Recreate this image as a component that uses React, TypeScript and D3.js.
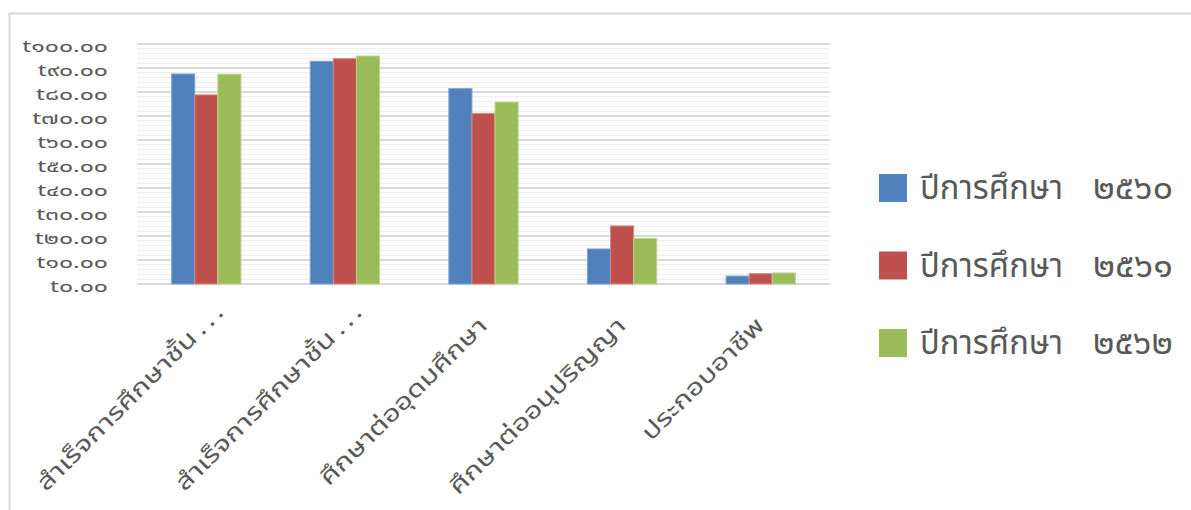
import React from "react";
import * as d3 from "d3";

const categories = [
  "สำเร็จการศึกษาชั้น...",
  "สำเร็จการศึกษาชั้น...",
  "ศึกษาต่ออุดมศึกษา",
  "ศึกษาต่ออนุปริญญา",
  "ประกอบอาชีพ",
];
const seriesLabels = ["ปีการศึกษา", "ปีการศึกษา", "ปีการศึกษา"];
const seriesYears = ["๒๕๖๐", "๒๕๖๑", "๒๕๖๒"];
const values2560 = [87.5, 92.8, 81.4, 14.6, 3.3];
const values2561 = [78.8, 93.9, 71.1, 24.2, 4.3];
const values2562 = [87.4, 95.0, 75.8, 19.0, 4.6];
const yTicks = [0, 10, 20, 30, 40, 50, 60, 70, 80, 90, 100];
const yTickLabels = [
  "t๐.๐๐", "t๑๐.๐๐", "t๒๐.๐๐", "t๓๐.๐๐", "t๔๐.๐๐", "t๕๐.๐๐",
  "t๖๐.๐๐", "t๗๐.๐๐", "t๘๐.๐๐", "t๙๐.๐๐", "t๑๐๐.๐๐",
];
const colors = ["#4F81BD", "#C0504D", "#9BBB59"];
const strokes = ["#7FA3D0", "#D88A88", "#BDD48F"];

const FONT = "'Leelawadee UI', Tahoma, 'Noto Sans Thai', 'Noto Sans', 'DejaVu Sans', sans-serif";

export default function App() {
  const W = 1191, H = 510;
  const left = 137, right = 830, top = 44, bottom = 284;
  const series = [values2560, values2561, values2562];
  const x0 = d3.scaleBand<number>().domain(d3.range(categories.length)).range([left, right]).paddingInner(0.5).paddingOuter(0.25);
  const x1 = d3.scaleBand<number>().domain([0, 1, 2]).range([0, x0.bandwidth()]);
  const y = d3.scaleLinear().domain([0, 100]).range([bottom, top]);
  const minor = d3.range(0, 101, 2);

  return (
    <svg width={W} height={H} style={{ position: "absolute", left: 0, top: 0, fontFamily: FONT }}>
      <rect x={0} y={0} width={W} height={H} fill="#fff" />
      <line x1={9.5} y1={13} x2={9.5} y2={H} stroke="#d9d9d9" strokeWidth={2} />
      <line x1={9} y1={13.5} x2={W} y2={13.5} stroke="#d9d9d9" strokeWidth={2} />
      {minor.map((v) => (
        <line key={"m" + v} x1={left} x2={right} y1={y(v)} y2={y(v)} stroke={v % 10 === 0 ? "#d9d9d9" : "#efefef"} strokeWidth={v % 10 === 0 ? 2 : 1.5} />
      ))}
      {yTicks.map((v, i) => (
        <text key={"yt" + v} transform={`translate(108,${y(v) + 8}) scale(1.55,1)`} textAnchor="end" fontSize={16} fill="#595959">
          {yTickLabels[i]}
        </text>
      ))}
      {categories.map((c, ci) =>
        series.map((s, si) => {
          const bx = (x0(ci) as number) + (x1(si) as number);
          return (
            <rect key={ci + "-" + si} x={bx} y={y(s[ci])} width={x1.bandwidth()} height={y(0) - y(s[ci])}
              fill={colors[si]} stroke={strokes[si]} strokeWidth={1} />
          );
        })
      )}
      {categories.map((c, ci) => {
        const cx = (x0(ci) as number) + x0.bandwidth() / 2;
        const trunc = c.endsWith("...");
        const main = trunc ? c.slice(0, -3) : c;
        return (
          <g key={"xl" + ci} transform={`translate(${cx + 5},${327}) rotate(-45) scale(1.3,1)`}>
            <text x={trunc ? -14 : 0} y={0} textAnchor="end" fontSize={23} fill="#595959">{main}</text>
            {trunc && <text x={-10} y={0} textAnchor="start" fontSize={23} letterSpacing={3} fill="#595959">...</text>}
          </g>
        );
      })}
      {seriesLabels.map((n, i) => (
        <g key={"lg" + i} transform={`translate(879,${174 + i * 77.5})`}>
          <rect x={0} y={0} width={28} height={28} fill={colors[i]} />
          <text x={41} y={25} fontSize={33} textLength={143} lengthAdjust="spacingAndGlyphs" fill="#595959">{n}</text>
          <text x={214} y={25} fontSize={33} textLength={80} lengthAdjust="spacingAndGlyphs" fill="#595959">{seriesYears[i]}</text>
        </g>
      ))}
    </svg>
  );
}
